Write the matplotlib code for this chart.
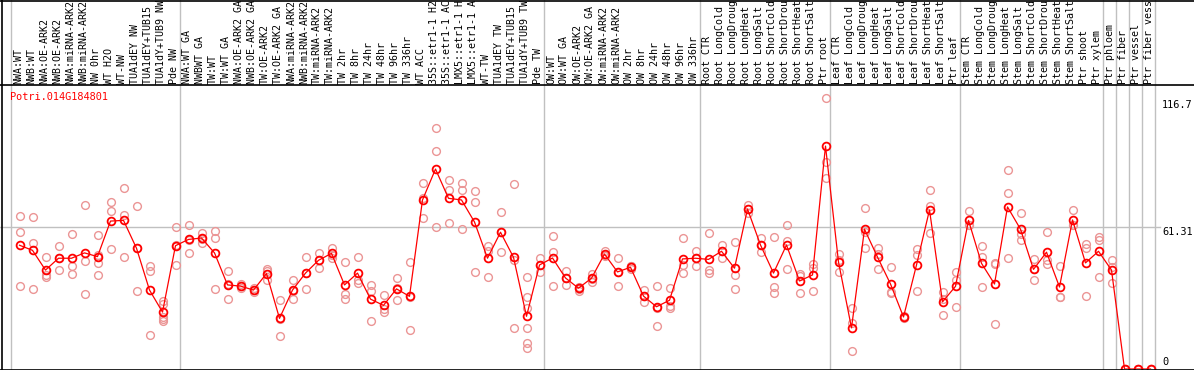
import matplotlib
matplotlib.use("Agg")
import matplotlib.pyplot as plt
from matplotlib.lines import Line2D

gene = "Potri.014G184801"

labels = [
    "NWA:WT", "NWB:WT", "NWA:OE-ARK2", "NWB:OE-ARK2", "NWA:miRNA-ARK2", "NWB:miRNA-ARK2",
    "NW 0hr", "WT H2O", "WT-NW", "TUA1dEY NW", "TUA1dEY+TUB15 NW", "TUA1dY+TUB9 NW", "Pde NW",
    "NWA:WT GA", "NWBWT GA", "TW:WT", "TW:WT GA", "NWA:OE-ARK2 GA", "NWB:OE-ARK2 GA",
    "TW:OE-ARK2", "TW:OE-ARK2 GA", "NWA:miRNA-ARK2", "NWB:miRNA-ARK2", "TW:miRNA-ARK2",
    "TW:miRNA-ARK2", "TW 2hr", "TW 8hr", "TW 24hr", "TW 48hr", "TW 96hr", "TW 336hr", "WT ACC",
    "35S::etr1-1 H2O", "35S::etr1-1 ACC", "LMX5::etr1-1 H2O", "LMX5::etr1-1 ACC", "WT-TW",
    "TUA1dEY TW", "TUA1dEY+TUB15 TW", "TUA1dY+TUB9 TW", "Pde TW",
    "OW:WT", "OW:WT GA", "OW:OE-ARK2", "OW:OE-ARK2 GA", "OW:miRNA-ARK2", "OW:miRNA-ARK2",
    "OW 2hr", "OW 8hr", "OW 24hr", "OW 48hr", "OW 96hr", "OW 336hr",
    "Root CTR", "Root LongCold", "Root LongDrought", "Root LongHeat", "Root LongSalt",
    "Root ShortCold", "Root ShortDrought", "Root ShortHeat", "Root ShortSalt", "Ptr root",
    "Leaf CTR", "Leaf LongCold", "Leaf LongDrought", "Leaf LongHeat", "Leaf LongSalt",
    "Leaf ShortCold", "Leaf ShortDrought", "Leaf ShortHeat", "Leaf ShortSalt", "Ptr leaf",
    "Stem CTR", "Stem LongCold", "Stem LongDrought", "Stem LongHeat", "Stem LongSalt",
    "Stem ShortCold", "Stem ShortDrought", "Stem ShortHeat", "Stem ShortSalt", "Ptr shoot",
    "Ptr xylem", "Ptr phloem", "Ptr fiber", "Ptr vessel", "Ptr fiber vessel",
]

# group boundaries (index where a new group starts)
group_starts = [0, 13, 41, 53, 63, 73, 84, 85, 86, 87, 88]

means = [
    53.3, 51.1, 42.6, 47.7, 47.7, 50.0, 48.4, 63.7, 64.0, 52.0, 34.0, 24.5, 53.1,
    55.8, 56.4, 50.0, 36.2, 35.7, 34.0, 41.1, 21.8, 34.0, 41.3, 46.8, 49.8, 36.2, 41.3,
    30.1, 27.4, 34.5, 31.3, 72.8, 86.1, 73.5, 72.8, 63.3, 47.7, 58.9, 48.1, 22.7, 44.8,
    47.8, 39.2, 34.8, 39.1, 49.5, 41.8, 43.8, 31.4, 26.8, 29.6, 47.4, 47.7, 47.2,
    50.7, 43.4, 68.9, 53.4, 41.3, 53.4, 37.9, 40.5, 96.0, 46.1,
    17.7, 60.2, 48.2, 36.6, 22.4, 44.8, 68.5, 28.9, 35.6, 64.0, 45.5,
    36.6, 69.8, 60.2, 42.9, 50.3, 35.3, 64.2, 45.7, 50.7, 42.6,
    0.0, 0.0, 0.0,
]

replicates = [
    [65.9, 58.9, 35.7], [65.5, 54.3, 34.3], [48.1, 39.5, 40.5], [52.8, 42.5, 47.8],
    [58.0, 44.4, 40.9], [70.5, 46.4, 32.2], [57.7, 49.1, 45.5, 40.3], [71.9, 68.0, 51.7],
    [77.9, 66.2, 48.2], [70.2, 33.6, 52.2], [44.4, 42.3, 14.5],
    [29.2, 28.1, 22.5, 21.4, 20.7], [61.2, 44.7, 53.4],
    [62.0, 50.0, 55.4], [58.7, 54.4, 56.1], [59.6, 56.3, 34.3], [42.1, 30.0, 36.5],
    [36.6, 34.9, 35.6], [34.8, 33.0, 34.2], [42.9, 38.3, 42.1], [29.7, 14.1, 21.6],
    [38.3, 30.0, 33.7], [48.2, 34.3, 41.4], [50.0, 43.4, 47.0], [52.3, 47.8, 49.3],
    [46.1, 32.3, 30.3], [48.2, 38.3, 37.2], [36.3, 33.5, 20.8], [31.9, 24.4, 26.0],
    [39.1, 29.6, 34.8], [46.1, 16.8, 31.0], [80.0, 64.9, 73.5], [103.8, 93.8, 61.2],
    [81.4, 77.1, 62.7], [80.2, 77.0, 60.2], [76.7, 71.8, 41.8], [52.8, 39.6, 50.7],
    [67.6, 50.3, 58.8], [79.7, 17.7, 46.9], [39.6, 30.9, 26.3, 17.7, 11.3, 9.0],
    [47.8, 41.8, 44.8],
    [57.3, 50.3, 35.7], [42.2, 36.2, 39.2], [35.4, 33.8, 34.6], [40.9, 37.6, 38.8],
    [50.7, 48.5, 49.3], [47.8, 35.7, 41.9], [44.2, 43.0, 44.2], [34.0, 28.9, 31.3],
    [35.7, 18.4, 26.3], [34.8, 27.1, 26.1], [56.3, 44.6, 41.2], [50.7, 44.5, 47.9],
    [58.4, 42.6, 41.2],
    [53.4, 47.7, 51.0], [54.6, 40.6, 34.3], [70.6, 67.1, 69.0], [56.4, 50.4, 53.4],
    [56.8, 35.4, 32.6], [62.0, 55.3, 42.9], [40.9, 32.7, 40.1], [45.3, 43.4, 33.6],
    [116.6, 89.1, 82.1], [49.5, 41.8, 47.0],
    [26.1, 19.7, 7.6], [69.3, 52.1, 59.1], [52.3, 42.9, 49.4], [43.9, 32.9, 33.0],
    [22.4, 21.8, 23.0], [51.8, 33.6, 49.0], [77.1, 58.4, 70.0], [33.3, 23.3, 30.0],
    [41.9, 26.6, 38.3], [68.0, 62.0, 62.0], [53.0, 35.3, 48.2],
    [45.5, 19.2, 45.1], [85.6, 75.7, 47.8], [67.1, 55.6, 58.0], [47.4, 38.2, 43.2],
    [58.9, 45.1, 46.9], [44.2, 30.9, 30.8], [68.5, 62.0, 62.1], [53.8, 31.4, 51.9],
    [57.0, 39.5, 55.6], [46.9, 37.0, 43.9],
    [0.0, 0.0, 0.0], [0.0, 0.0, 0.0], [0.0, 0.0, 0.0],
]

ytick_values = [0, 61.31, 116.7]
ytick_labels = ["0", "61.31", "116.7"]

# ---------------- layout (pixels) ----------------
W, H = 1194, 370
X0, DX = 19.5, 13.0          # pixel x of first column, column pitch
HEADER_BOTTOM = 85           # header / plot separator
PLOT_BOTTOM = 369
PX_PER_UNIT = (PLOT_BOTTOM - 98) / 116.7

RED = "#ff0000"
PINK = "#eb9595"
GRID = "#c0c0c0"
MONO = "DejaVu Sans Mono"

fig = plt.figure(figsize=(W / 100, H / 100), dpi=100)
fig.patch.set_facecolor("white")

xlim = (-X0 / DX, (W - X0) / DX)
ax = fig.add_axes([0, 1 - PLOT_BOTTOM / H, 1, (PLOT_BOTTOM - HEADER_BOTTOM) / H])
ax.set_xlim(*xlim)
ax.set_ylim(0, (PLOT_BOTTOM - HEADER_BOTTOM) / PX_PER_UNIT)
ax.axis("off")

hax = fig.add_axes([0, 1 - (HEADER_BOTTOM - 0.5) / H, 1, (HEADER_BOTTOM - 1.5) / H])
hax.set_xlim(*xlim)
hax.set_ylim(0, 1)
hax.axis("off")

# vertical group separators (drawn beneath everything)
for b in group_starts:
    fig.add_artist(Line2D([(X0 + DX * (b - 0.65)) / W] * 2, [1 - PLOT_BOTTOM / H, 1],
                          color=GRID, lw=1.0, transform=fig.transFigure, zorder=-1))

# horizontal reference line
last_grid = (1160 - X0) / DX
ax.plot([xlim[0], last_grid], [ytick_values[1]] * 2, color=GRID, lw=1.0, zorder=1)

# replicates
for i, reps in enumerate(replicates):
    ax.plot([i] * len(reps), reps, linestyle="none", marker="o", ms=5.6,
            mfc="none", mec=PINK, mew=1.0, zorder=2, clip_on=True)

# means
xs = list(range(len(means)))
ax.plot(xs, means, color=RED, lw=0.9, zorder=3)
ax.plot(xs, means, linestyle="none", marker="o", ms=5.6, mfc="none",
        mec=RED, mew=1.3, zorder=4)

# column labels (clipped by the header box, as in the original)
for i, lab in enumerate(labels):
    hax.text(i - 0.1, 0.01, lab, rotation=90, ha="center", va="bottom",
             fontsize=7.2, family=MONO, color="black", clip_on=True)

# gene name
ax.text((10 - X0) / DX, 1 - (97 - HEADER_BOTTOM) / (PLOT_BOTTOM - HEADER_BOTTOM),
        gene, transform=ax.get_xaxis_transform(), ha="left", va="center",
        fontsize=7.4, family=MONO, color=RED, zorder=5)

# value labels on the right
label_x = (1162 - X0) / DX
offsets = [7, -5, -7]  # pixel offset of text centre relative to value
for v, t, off in zip(ytick_values, ytick_labels, offsets):
    ax.annotate(t, (label_x, v), xytext=(0, off * 0.72),
                textcoords="offset points", ha="left", va="center",
                fontsize=7.4, family=MONO, color="black", annotation_clip=False)

# black frame lines
def hline(py):
    fig.add_artist(Line2D([0, 1], [1 - py / H] * 2, color="black", lw=1.2,
                          transform=fig.transFigure))
hline(0.5)
hline(HEADER_BOTTOM)
hline(PLOT_BOTTOM + 0.5)
fig.add_artist(Line2D([1.5 / W] * 2, [0, 1], color="black", lw=1.2,
                      transform=fig.transFigure))

fig.savefig("out.png", dpi=100)
